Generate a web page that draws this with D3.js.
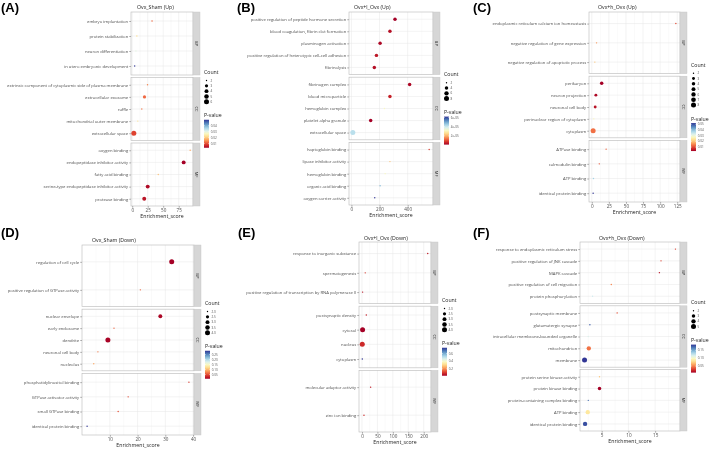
<!DOCTYPE html>
<html>
<head>
<meta charset="utf-8">
<script src="https://cdn.jsdelivr.net/npm/d3@7"></script>
<style>
  body { margin: 0; background: #fff; }
  svg { display: block; will-change: transform; }
  text { font-family: "Open Sans", "DejaVu Sans", sans-serif; }
</style>
</head>
<body>
<div id="chart"></div>
<script>
// ---- (A) Ovx_Sham (Up)
var aTerms = ["embryo implantation", "protein stabilization", "neuron differentiation", "in utero embryonic development",
  "extrinsic component of cytoplasmic side of plasma membrane", "extracellular exosome", "ruffle", "mitochondrial outer membrane", "extracellular space",
  "oxygen binding", "endopeptidase inhibitor activity", "fatty acid binding", "serine-type endopeptidase inhibitor activity", "protease binding"];
var aOnt = ["BP","BP","BP","BP","CC","CC","CC","CC","CC","MF","MF","MF","MF","MF"];
var aScore = [32, 7.5, 6, 4, 24.7, 19.8, 15.5, 9, 2.6, 93.5, 83, 42, 25, 19.4];
var aCount = [2, 2, 2, 2, 2, 3, 2, 2, 6, 2, 4, 2, 4, 4];
var aPval = [0.012, 0.022, 0.03, 0.05, 0.014, 0.012, 0.013, 0.023, 0.009, 0.017, 0.003, 0.019, 0.004, 0.005];
var aXTicks = [0, 25, 50, 75];
var aCountTicks = [2, 3, 4, 5, 6];
var aPTicks = [0.01, 0.02, 0.03, 0.04];

// ---- (B) Ovx+l_Ovx (Up)
var bTerms = ["positive regulation of peptide hormone secretion", "blood coagulation, fibrin clot formation", "plasminogen activation",
  "positive regulation of heterotypic cell-cell adhesion", "fibrinolysis",
  "fibrinogen complex", "blood microparticle", "hemoglobin complex", "platelet alpha granule", "extracellular space",
  "haptoglobin binding", "lipase inhibitor activity", "hemoglobin binding", "organic acid binding", "oxygen carrier activity"];
var bOnt = ["BP","BP","BP","BP","BP","CC","CC","CC","CC","CC","MF","MF","MF","MF","MF"];
var bScore = [310, 274, 204, 178, 163, 414, 274, 235, 137, 10, 553, 274, 240, 204, 166];
var bCount = [4, 4, 4, 4, 4, 4, 4, 2, 4, 8, 2, 2, 2, 2, 2];
var bPval = [1e-6, 3e-6, 2e-6, 4e-6, 3e-6, 2e-6, 5e-6, 3.2e-5, 1e-6, 4.2e-5, 8e-6, 2.2e-5, 3.2e-5, 4.8e-5, 6.2e-5];
var bXTicks = [0, 200, 400];
var bCountTicks = [2, 4, 6, 8];
var bPTicks = [2e-5, 4e-5, 6e-5];

// ---- (C) Ovx+h_Ovx (Up)
var cTerms = ["endoplasmic reticulum calcium ion homeostasis", "negative regulation of gene expression", "negative regulation of apoptotic process",
  "perikaryon", "neuron projection", "neuronal cell body", "perinuclear region of cytoplasm", "cytoplasm",
  "ATPase binding", "calmodulin binding", "ATP binding", "identical protein binding"];
var cOnt = ["BP","BP","BP","CC","CC","CC","CC","CC","MF","MF","MF","MF"];
var cScore = [123, 7, 4.5, 14.5, 6, 5, 3, 2, 21, 11, 2.5, 2];
var cCount = [2, 2, 2, 4, 3, 3, 2, 8, 2, 2, 2, 2];
var cPval = [0.01, 0.016, 0.02, 0.003, 0.004, 0.005, 0.027, 0.013, 0.012, 0.011, 0.038, 0.052];
var cXTicks = [0, 25, 50, 75, 100, 125];
var cCountTicks = [2, 3, 4, 5, 6, 7, 8];
var cPTicks = [0.01, 0.02, 0.03, 0.04, 0.05];

// ---- (D) Ovx_Sham (Down)
var dTerms = ["regulation of cell cycle", "positive regulation of GTPase activity",
  "nuclear envelope", "early endosome", "dendrite", "neuronal cell body", "nucleolus",
  "phosphatidylinositol binding", "GTPase activator activity", "small GTPase binding", "identical protein binding"];
var dOnt = ["BP","BP","CC","CC","CC","CC","CC","MF","MF","MF","MF"];
var dScore = [32.3, 21, 28.2, 11.5, 9.3, 5.7, 4.2, 38.5, 16.6, 13, 1.8];
var dCount = [4, 2, 3, 2, 4, 2, 2, 2, 2, 2, 2];
var dPval = [0.008, 0.06, 0.012, 0.06, 0.01, 0.07, 0.09, 0.04, 0.045, 0.05, 0.288];
var dXTicks = [10, 20, 30, 40];
var dCountTicks = [2.0, 2.5, 3.0, 3.5, 4.0];
var dPTicks = [0.05, 0.10, 0.15, 0.20, 0.25];

// ---- (E) Ovx+l_Ovx (Down)
var eTerms = ["response to inorganic substance", "spermatogenesis", "positive regulation of transcription by RNA polymerase II",
  "postsynaptic density", "cytosol", "nucleus", "cytoplasm",
  "molecular adaptor activity", "zinc ion binding"];
var eOnt = ["BP","BP","BP","CC","CC","CC","CC","MF","MF"];
var eScore = [213, 10.6, 2, 14, 2, 1, 1, 28, 6.5];
var eCount = [2, 2, 2, 2, 4, 4, 2, 2, 2];
var ePval = [0.06, 0.1, 0.05, 0.06, 0.02, 0.08, 0.75, 0.06, 0.08];
var eXTicks = [0, 50, 100, 150, 200];
var eCountTicks = [2.0, 2.5, 3.0, 3.5, 4.0];
var ePTicks = [0.2, 0.4, 0.6];

// ---- (F) Ovx+h_Ovx (Down)
var fTerms = ["response to endoplasmic reticulum stress", "positive regulation of JNK cascade", "MAPK cascade",
  "positive regulation of cell migration", "protein phosphorylation",
  "postsynaptic membrane", "glutamatergic synapse", "intracellular membrane-bounded organelle", "mitochondrion", "membrane",
  "protein serine kinase activity", "protein kinase binding", "protein-containing complex binding", "ATP binding", "identical protein binding"];
var fOnt = ["BP","BP","BP","BP","BP","CC","CC","CC","CC","CC","MF","MF","MF","MF","MF"];
var fScore = [18.8, 16.1, 15.8, 6.8, 3.3, 7.9, 2.8, 2.5, 2.6, 1.8, 4.6, 4.6, 2.5, 2.4, 1.9];
var fCount = [2, 2, 2, 2, 2, 2, 2, 2, 4, 5, 2, 3, 2, 4, 4];
var fPval = [0.03, 0.03, 0.015, 0.05, 0.12, 0.035, 0.175, 0.115, 0.045, 0.187, 0.07, 0.008, 0.17, 0.085, 0.18];
var fXTicks = [5, 10, 15];
var fCountTicks = [2, 3, 4, 5];
var fPTicks = [0.05, 0.10, 0.15];

var groups = ["BP", "CC", "MF"];

function expFmt(v) { return v.toExponential(0).replace(/e-(\d)$/, "e-0$1"); }

// layout of each panel (pixels)
var panels = [
  {tag: "(A)", tagX: 1, tagY: 12, title: "Ovx_Sham (Up)", titleX: 137, titleY: 8.5,
   terms: aTerms, ont: aOnt, score: aScore, count: aCount, pval: aPval,
   xTicks: aXTicks, countTicks: aCountTicks, pTicks: aPTicks, pFmt: d3.format(".2f"), cFmt: d3.format("d"),
   x0: 131, x1: 193, y0: 12, y1: 206},
  {tag: "(B)", tagX: 237, tagY: 12, title: "Ovx+l_Ovx (Up)", titleX: 354, titleY: 8.5,
   terms: bTerms, ont: bOnt, score: bScore, count: bCount, pval: bPval,
   xTicks: bXTicks, countTicks: bCountTicks, pTicks: bPTicks, pFmt: expFmt, cFmt: d3.format("d"),
   x0: 349, x1: 433, y0: 12, y1: 205},
  {tag: "(C)", tagX: 473, tagY: 12, title: "Ovx+h_Ovx (Up)", titleX: 598, titleY: 8.5,
   terms: cTerms, ont: cOnt, score: cScore, count: cCount, pval: cPval,
   xTicks: cXTicks, countTicks: cCountTicks, pTicks: cPTicks, pFmt: d3.format(".2f"), cFmt: d3.format("d"),
   x0: 589, x1: 680, y0: 12, y1: 202},
  {tag: "(D)", tagX: 1, tagY: 237, title: "Ovx_Sham (Down)", titleX: 92, titleY: 241.5,
   terms: dTerms, ont: dOnt, score: dScore, count: dCount, pval: dPval,
   xTicks: dXTicks, countTicks: dCountTicks, pTicks: dPTicks, pFmt: d3.format(".2f"), cFmt: d3.format(".1f"),
   x0: 82, x1: 194, y0: 245, y1: 435},
  {tag: "(E)", tagX: 238, tagY: 237, title: "Ovx+l_Ovx (Down)", titleX: 364, titleY: 239.5,
   terms: eTerms, ont: eOnt, score: eScore, count: eCount, pval: ePval,
   xTicks: eXTicks, countTicks: eCountTicks, pTicks: ePTicks, pFmt: d3.format(".1f"), cFmt: d3.format(".1f"),
   x0: 359, x1: 431, y0: 242, y1: 432},
  {tag: "(F)", tagX: 473, tagY: 237, title: "Ovx+h_Ovx (Down)", titleX: 599, titleY: 239.5,
   terms: fTerms, ont: fOnt, score: fScore, count: fCount, pval: fPval,
   xTicks: fXTicks, countTicks: fCountTicks, pTicks: fPTicks, pFmt: d3.format(".2f"), cFmt: d3.format("d"),
   x0: 580, x1: 680, y0: 242, y1: 431}
];

var svg = d3.select("#chart").append("svg")
    .attr("width", 709)
    .attr("height", 450);
var defs = svg.append("defs");

var gap = 2.5, stripW = 7;

panels.forEach(function(p, pi) {
  var g = svg.append("g");

  // scales
  var ext = d3.extent(p.score), pad = (ext[1] - ext[0]) * 0.05;
  var x = d3.scaleLinear().domain([ext[0] - pad, ext[1] + pad]).range([p.x0, p.x1]);
  var color = d3.scaleSequential(d3.interpolateRdYlBu).domain(d3.extent(p.pval));
  var cNorm = d3.scaleLinear().domain(d3.extent(p.count)).range([0, 1]);
  var rSq = d3.scaleSqrt().domain([0, 1]).range([0.7, 2.5]);
  var radius = function(c) { return rSq(cNorm(c)); };

  // minor breaks between the major ones
  var step = p.xTicks[1] - p.xTicks[0];
  var minor = [p.xTicks[0] - step / 2].concat(p.xTicks.map(function(t) { return t + step / 2; }))
    .filter(function(v) { return v > x.domain()[0] && v < x.domain()[1]; });

  // panel tag and title
  svg.append("text")
      .attr("x", p.tagX).attr("y", p.tagY)
      .style("font-family", "'Liberation Sans', Arial, sans-serif")
      .style("font-weight", "bold").style("font-size", "13px")
      .text(p.tag);
  svg.append("text")
      .attr("x", p.titleX).attr("y", p.titleY)
      .style("font-size", "5.2px").style("fill", "#222")
      .text(p.title);

  var fh = (p.y1 - p.y0 - 2 * gap) / 3;

  groups.forEach(function(grp, gi) {
    var fy0 = p.y0 + gi * (fh + gap), fy1 = fy0 + fh;
    var idx = d3.range(p.terms.length).filter(function(i) { return p.ont[i] === grp; });
    var y = d3.scalePoint()
        .domain(idx.map(function(i) { return p.terms[i]; }))
        .range([fy0, fy1])
        .padding(0.6);

    var fg = g.append("g");

    fg.append("rect")
        .attr("x", p.x0).attr("y", fy0)
        .attr("width", p.x1 - p.x0).attr("height", fh)
        .attr("fill", "#fff");

    // grid lines
    fg.selectAll(".minor")
        .data(minor)
      .enter().append("line")
        .attr("x1", function(d) { return x(d); }).attr("x2", function(d) { return x(d); })
        .attr("y1", fy0).attr("y2", fy1)
        .attr("stroke", "#f2f2f2").attr("stroke-width", 0.4);
    fg.selectAll(".major")
        .data(p.xTicks)
      .enter().append("line")
        .attr("x1", function(d) { return x(d); }).attr("x2", function(d) { return x(d); })
        .attr("y1", fy0).attr("y2", fy1)
        .attr("stroke", "#e6e6e6").attr("stroke-width", 0.5);
    fg.selectAll(".hgrid")
        .data(y.domain())
      .enter().append("line")
        .attr("x1", p.x0).attr("x2", p.x1)
        .attr("y1", function(d) { return y(d); }).attr("y2", function(d) { return y(d); })
        .attr("stroke", "#e6e6e6").attr("stroke-width", 0.5);

    // border
    fg.append("rect")
        .attr("x", p.x0).attr("y", fy0)
        .attr("width", p.x1 - p.x0).attr("height", fh)
        .attr("fill", "none").attr("stroke", "#b8b8b8").attr("stroke-width", 0.6);

    // strip
    fg.append("rect")
        .attr("x", p.x1).attr("y", fy0)
        .attr("width", stripW).attr("height", fh)
        .attr("fill", "#d6d6d6").attr("stroke", "#c4c4c4").attr("stroke-width", 0.4);
    fg.append("text")
        .attr("transform", "translate(" + (p.x1 + stripW / 2) + "," + ((fy0 + fy1) / 2) + ") rotate(90)")
        .attr("text-anchor", "middle").attr("dy", "0.35em")
        .style("font-size", "4px").style("fill", "#1a1a1a")
        .text(grp);

    // y axis
    var ya = fg.append("g")
        .attr("transform", "translate(" + p.x0 + ",0)")
        .call(d3.axisLeft(y).tickSize(1.8).tickPadding(1));
    ya.select(".domain").remove();
    ya.selectAll(".tick line").attr("stroke", "#444").attr("stroke-width", 0.4);
    ya.selectAll(".tick text")
        .style("font-size", "4.2px").style("fill", "#4d4d4d")
        .style("font-family", "'Open Sans', 'DejaVu Sans', sans-serif");

    // points
    fg.selectAll(".dot")
        .data(idx)
      .enter().append("circle")
        .attr("cx", function(i) { return x(p.score[i]); })
        .attr("cy", function(i) { return y(p.terms[i]); })
        .attr("r", function(i) { return radius(p.count[i]); })
        .attr("fill", function(i) { return color(p.pval[i]); });

    // x axis under the last facet
    if (gi === groups.length - 1) {
      var xa = fg.append("g")
          .attr("transform", "translate(0," + fy1 + ")")
          .call(d3.axisBottom(x).tickValues(p.xTicks).tickSize(1.8).tickPadding(0.8));
      xa.select(".domain").remove();
      xa.selectAll(".tick line").attr("stroke", "#444").attr("stroke-width", 0.4);
      xa.selectAll(".tick text")
          .style("font-size", "4.6px").style("fill", "#4d4d4d")
          .style("font-family", "'Open Sans', 'DejaVu Sans', sans-serif");
      fg.append("text")
          .attr("x", (p.x0 + p.x1) / 2).attr("y", fy1 + 12)
          .attr("text-anchor", "middle")
          .style("font-size", "5.2px").style("fill", "#222")
          .text("Enrichment_score");
    }
  });

  // legends
  var lx = p.x1 + stripW + 4;
  var n = p.countTicks.length;
  var blockH = 56.3 + (n - 1) * 5.3;
  var top = (p.y0 + p.y1) / 2 - blockH / 2;
  var lg = g.append("g");
  var cBase = top + 4;
  lg.append("text")
      .attr("x", lx).attr("y", cBase)
      .style("font-size", "5.2px").style("fill", "#222")
      .text("Count");
  var itemY = function(k) { return cBase + 6.3 + k * 5.3; };
  lg.selectAll(".cdot")
      .data(p.countTicks)
    .enter().append("circle")
      .attr("cx", lx + 2.5)
      .attr("cy", function(d, k) { return itemY(k); })
      .attr("r", function(d) { return radius(d); })
      .attr("fill", "#000");
  lg.selectAll(".clab")
      .data(p.countTicks)
    .enter().append("text")
      .attr("x", lx + 6.5)
      .attr("y", function(d, k) { return itemY(k); })
      .attr("dy", "0.35em")
      .style("font-size", "3px").style("fill", "#4d4d4d")
      .text(function(d) { return p.cFmt(d); });

  var pBase = itemY(n - 1) + 15.5;
  lg.append("text")
      .attr("x", lx).attr("y", pBase)
      .style("font-size", "5.2px").style("fill", "#222")
      .text("P-value");

  var barTop = pBase + 2.5, barH = 28, barW = 5;
  var grad = defs.append("linearGradient")
      .attr("id", "grad" + pi)
      .attr("x1", 0).attr("y1", 1).attr("x2", 0).attr("y2", 0);
  d3.range(11).forEach(function(k) {
    grad.append("stop")
        .attr("offset", k / 10)
        .attr("stop-color", d3.interpolateRdYlBu(k / 10));
  });
  lg.append("rect")
      .attr("x", lx).attr("y", barTop)
      .attr("width", barW).attr("height", barH)
      .attr("fill", "url(#grad" + pi + ")");
  var pScale = d3.scaleLinear().domain(color.domain()).range([barTop + barH, barTop]);
  lg.selectAll(".ptick")
      .data(p.pTicks)
    .enter().append("line")
      .attr("x1", lx).attr("x2", lx + 1)
      .attr("y1", function(d) { return pScale(d); }).attr("y2", function(d) { return pScale(d); })
      .attr("stroke", "#fff").attr("stroke-width", 0.4);
  lg.selectAll(".ptick2")
      .data(p.pTicks)
    .enter().append("line")
      .attr("x1", lx + barW - 1).attr("x2", lx + barW)
      .attr("y1", function(d) { return pScale(d); }).attr("y2", function(d) { return pScale(d); })
      .attr("stroke", "#fff").attr("stroke-width", 0.4);
  lg.selectAll(".plab")
      .data(p.pTicks)
    .enter().append("text")
      .attr("x", lx + barW + 1.8)
      .attr("y", function(d) { return pScale(d); })
      .attr("dy", "0.35em")
      .style("font-size", "3px").style("fill", "#4d4d4d")
      .text(function(d) { return p.pFmt(d); });
});
</script>
</body>
</html>
